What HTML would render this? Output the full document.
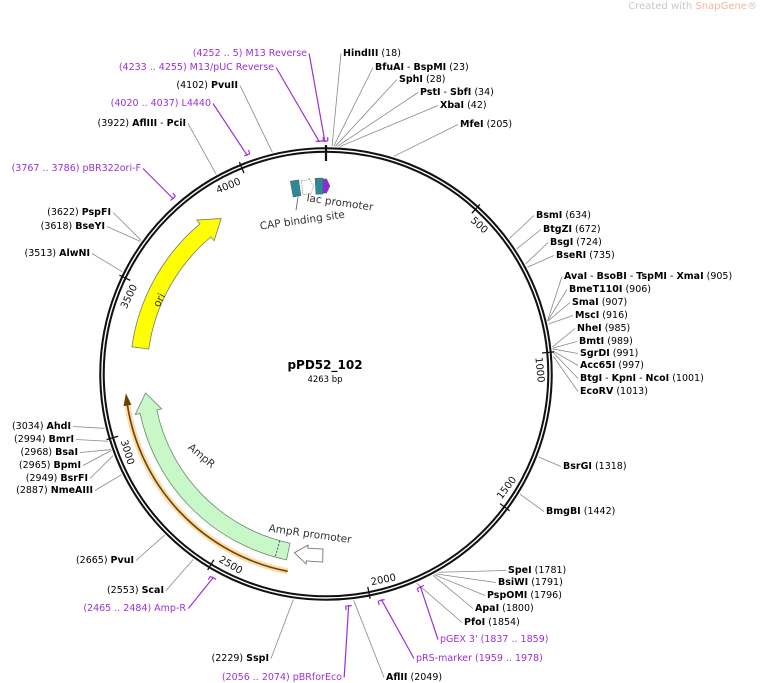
<!DOCTYPE html>
<html><head><meta charset="utf-8"><style>
html,body{margin:0;padding:0;background:#fff;width:760px;height:683px;overflow:hidden}
svg{display:block;font-family:"DejaVu Sans","Liberation Sans",sans-serif;font-size:9.5px}
.b{font-weight:bold}
.p{fill:#9b30d9}
.t{font-size:10px;fill:#111}
</style></head><body>
<svg id="s" width="760" height="683" viewBox="0 0 760 683" xmlns="http://www.w3.org/2000/svg">
<g id="lines" stroke="#888" stroke-width="0.8" fill="none"></g>
<g id="feat"></g>
<circle cx="326" cy="374" r="224" fill="none" stroke="#111" stroke-width="5.5"/>
<circle cx="326" cy="374" r="224" fill="none" stroke="#fff" stroke-width="1.4"/>
<g id="ticks" stroke="#111" stroke-width="1.3"></g>
<g id="prim" stroke="#9b30d9" stroke-width="1.2" fill="none"></g>

<g class="t">
<text transform="rotate(42.2 326 374)" x="330" y="164">500</text>
<text transform="rotate(84.4 326 374)" x="330" y="164">1000</text>
<text transform="rotate(-53.3 326 374)" x="330" y="590">1500</text>
<text transform="rotate(-11.1 326 374)" x="330" y="590">2000</text>
<text transform="rotate(31 326 374)" x="330" y="590">2500</text>
<text transform="rotate(73 326 374)" x="330" y="590">3000</text>
<text transform="rotate(-64.4 326 374)" x="298" y="166">3500</text>
<text transform="rotate(-22.2 326 374)" x="294" y="166">4000</text>
</g>

<text x="325" y="369" text-anchor="middle" class="b" style="font-size:12px">pPD52_102</text>
<text x="325" y="382" text-anchor="middle" style="font-size:8.5px">4263 bp</text>

<text x="260" y="224" transform="rotate(-8 300 224)" style="font-size:10.5px;fill:#333">CAP binding site</text>
<text x="306" y="206" transform="rotate(8 340 205)" style="font-size:10.5px;fill:#333">lac promoter</text>
<text x="186" y="458" transform="rotate(40 200 455)" style="font-size:10.5px;fill:#333">AmpR</text>
<text x="268" y="536" transform="rotate(8 300 536)" style="font-size:10.5px;fill:#333">AmpR promoter</text>
<text x="158" y="306" transform="rotate(-62 160 306)" style="font-size:10.5px;fill:#333">ori</text>

<g id="R">
<text id="r0" x="343" y="56"><tspan class="b">HindIII</tspan>  (18)</text>
<text id="r1" x="375" y="70"><tspan class="b">BfuAI</tspan> - <tspan class="b">BspMI</tspan>  (23)</text>
<text id="r2" x="399" y="82"><tspan class="b">SphI</tspan>  (28)</text>
<text id="r3" x="420" y="95"><tspan class="b">PstI</tspan> - <tspan class="b">SbfI</tspan>  (34)</text>
<text id="r4" x="440" y="108"><tspan class="b">XbaI</tspan>  (42)</text>
<text id="r5" x="460" y="127"><tspan class="b">MfeI</tspan>  (205)</text>
<text id="r6" x="536" y="218"><tspan class="b">BsmI</tspan>  (634)</text>
<text id="r7" x="543" y="232"><tspan class="b">BtgZI</tspan>  (672)</text>
<text id="r8" x="550" y="245"><tspan class="b">BsgI</tspan>  (724)</text>
<text id="r9" x="556" y="258"><tspan class="b">BseRI</tspan>  (735)</text>
<text id="r10" x="564" y="279"><tspan class="b">AvaI</tspan> - <tspan class="b">BsoBI</tspan> - <tspan class="b">TspMI</tspan> - <tspan class="b">XmaI</tspan>  (905)</text>
<text id="r11" x="569" y="292"><tspan class="b">BmeT110I</tspan>  (906)</text>
<text id="r12" x="572" y="305"><tspan class="b">SmaI</tspan>  (907)</text>
<text id="r13" x="575" y="318"><tspan class="b">MscI</tspan>  (916)</text>
<text id="r14" x="577" y="331"><tspan class="b">NheI</tspan>  (985)</text>
<text id="r15" x="579" y="344"><tspan class="b">BmtI</tspan>  (989)</text>
<text id="r16" x="580" y="356"><tspan class="b">SgrDI</tspan>  (991)</text>
<text id="r17" x="580" y="368"><tspan class="b">Acc65I</tspan>  (997)</text>
<text id="r18" x="580" y="381"><tspan class="b">BtgI</tspan> - <tspan class="b">KpnI</tspan> - <tspan class="b">NcoI</tspan>  (1001)</text>
<text id="r19" x="580" y="394"><tspan class="b">EcoRV</tspan>  (1013)</text>
<text id="r20" x="563" y="469"><tspan class="b">BsrGI</tspan>  (1318)</text>
<text id="r21" x="546" y="514"><tspan class="b">BmgBI</tspan>  (1442)</text>
<text id="r22" x="508" y="573"><tspan class="b">SpeI</tspan>  (1781)</text>
<text id="r23" x="498" y="585"><tspan class="b">BsiWI</tspan>  (1791)</text>
<text id="r24" x="487" y="598"><tspan class="b">PspOMI</tspan>  (1796)</text>
<text id="r25" x="475" y="611"><tspan class="b">ApaI</tspan>  (1800)</text>
<text id="r26" x="464" y="625"><tspan class="b">PfoI</tspan>  (1854)</text>
<text id="r27" x="440" y="642" class="p">pGEX 3'  (1837 .. 1859)</text>
<text id="r28" x="416" y="661" class="p">pRS-marker  (1959 .. 1978)</text>
<text id="r29" x="386" y="680"><tspan class="b">AflII</tspan>  (2049)</text>
</g>
<g id="L" text-anchor="end">
<text id="l0" x="307" y="56" class="p">(4252 .. 5)  M13 Reverse</text>
<text id="l1" x="274" y="70" class="p">(4233 .. 4255)  M13/pUC Reverse</text>
<text id="l2" x="238" y="88">(4102)  <tspan class="b">PvuII</tspan></text>
<text id="l3" x="211" y="106" class="p">(4020 .. 4037)  L4440</text>
<text id="l4" x="186" y="126">(3922)  <tspan class="b">AflIII</tspan> - <tspan class="b">PciI</tspan></text>
<text id="l5" x="141" y="171" class="p">(3767 .. 3786)  pBR322ori-F</text>
<text id="l6" x="111" y="215">(3622)  <tspan class="b">PspFI</tspan></text>
<text id="l7" x="105" y="229">(3618)  <tspan class="b">BseYI</tspan></text>
<text id="l8" x="90" y="256">(3513)  <tspan class="b">AlwNI</tspan></text>
<text id="l9" x="71" y="429">(3034)  <tspan class="b">AhdI</tspan></text>
<text id="l10" x="74" y="442">(2994)  <tspan class="b">BmrI</tspan></text>
<text id="l11" x="78" y="455">(2968)  <tspan class="b">BsaI</tspan></text>
<text id="l12" x="81" y="468">(2965)  <tspan class="b">BpmI</tspan></text>
<text id="l13" x="88" y="481">(2949)  <tspan class="b">BsrFI</tspan></text>
<text id="l14" x="93" y="493">(2887)  <tspan class="b">NmeAIII</tspan></text>
<text id="l15" x="134" y="563">(2665)  <tspan class="b">PvuI</tspan></text>
<text id="l16" x="164" y="593">(2553)  <tspan class="b">ScaI</tspan></text>
<text id="l17" x="186" y="611" class="p">(2465 .. 2484)  Amp-R</text>
<text id="l18" x="269" y="661">(2229)  <tspan class="b">SspI</tspan></text>
<text id="l19" x="342" y="680" class="p">(2056 .. 2074)  pBRforEco</text>
</g>
<text x="757" y="9" text-anchor="end" style="font-size:10px;fill:#c8c8c8">Created with <tspan style="fill:#f2b79a">SnapGene</tspan>®</text>
</svg>
<script>
var cx=326,cy=374,N=4263,NS="http://www.w3.org/2000/svg";
function P(a,r){a=a*Math.PI/180;return [cx+r*Math.sin(a),cy-r*Math.cos(a)];}
function D(bp){return bp/N*360;}
function el(t,at,par){var e=document.createElementNS(NS,t);for(var k in at)e.setAttribute(k,at[k]);document.getElementById(par).appendChild(e);return e;}
function arcPath(a1,a2,r){var p=P(a1,r),q=P(a2,r),l=(a2-a1)>180?1:0;return "M"+p+" A"+r+" "+r+" 0 "+l+" 1 "+q;}
function arrow(a1,a2,r1,r2,head,flare){
 var m=(r1+r2)/2,h=a2-head;
 return "M"+P(a1,r2)+" A"+r2+" "+r2+" 0 0 1 "+P(h,r2)+" L"+P(h,r2+flare)+" L"+P(a2,m)+" L"+P(h,r1-flare)+" L"+P(h,r1)+" A"+r1+" "+r1+" 0 0 0 "+P(a1,r1)+" Z";}
[0,500,1000,1500,2000,2500,3000,3500,4000].forEach(function(b){var a=D(b),p=P(a,b==0?213:217),q=P(a,229);el("line",{x1:p[0],y1:p[1],x2:q[0],y2:q[1],"stroke-width":b==0?2.2:1.3},"ticks");});
el("path",{d:arcPath(191,262,201),stroke:"#f5b040","stroke-width":6,"stroke-opacity":0.45,fill:"none"},"feat");
el("path",{d:arcPath(191,262,201),stroke:"#6b4300","stroke-width":1.6,fill:"none"},"feat");
var t=P(264.5,201),u=P(261,197),v=P(261,205);
el("path",{d:"M"+t+" L"+u+" L"+v+"Z",fill:"#6b4300"},"feat");
el("path",{d:arrow(278,326,179,196,6,5),fill:"#ffff00",stroke:"#777","stroke-width":0.8},"feat");
el("path",{d:arrow(192,264,173,190,6,5),fill:"#c8f7c8",stroke:"#6a8a6a","stroke-width":0.8},"feat");
var dl1=P(195.5,173),dl2=P(195.5,190);el("line",{x1:dl1[0],y1:dl1[1],x2:dl2[0],y2:dl2[1],stroke:"#333","stroke-dasharray":"2,1.5","stroke-width":0.8},"feat");
el("path",{d:arrow(181,190,175,188,4,3),fill:"#fff",stroke:"#777","stroke-width":0.9},"feat");
el("path",{d:arrow(-10.5,-8,180,196,0.01,0),fill:"#2a8a9a",stroke:"#555","stroke-width":0.5},"feat");
el("path",{d:arrow(-7.3,-3.8,181,195,1.2,1.5),fill:"#fff",stroke:"#777","stroke-width":0.6,"stroke-dasharray":"1.5,1"},"feat");
el("path",{d:arrow(-3.2,-0.9,180,196,0.01,0),fill:"#2a8a9a",stroke:"#555","stroke-width":0.5},"feat");
el("path",{d:arrow(-0.9,1.2,181,195,1.1,0.5),fill:"#8a2be2",stroke:"#555","stroke-width":0.5},"feat");
var cb1=P(-9,179),cb2=[cb1[0]-2,cb1[1]+13];el("line",{x1:cb1[0],y1:cb1[1],x2:cb2[0],y2:cb2[1],stroke:"#555","stroke-width":0.8},"feat");
var R=[18,23,28,34,42,205,634,672,724,735,905,906,907,916,985,989,991,997,1001,1013,1318,1442,1781,1791,1796,1800,1854,[1837,1859],[1959,1978],2049];
var L=[[4252,4268],[4233,4255],4102,[4020,4037],3922,[3767,3786],3622,3618,3513,3034,2994,2968,2965,2949,2887,2665,2553,[2465,2484],2229,[2056,2074]];
function conn(id,v,side){
 var e=document.getElementById(id),bb=e.getBBox();
 var isP=Array.isArray(v),bp=isP?(v[0]+v[1])/2:v,a=D(bp),r=isP?232:228;
 var p=P(a,r),q=side?[bb.x-2,bb.y+bb.height/2]:[bb.x+bb.width+2,bb.y+bb.height/2];
 if(isP){el("path",{d:arcPath(D(v[0]),D(v[1]),233)},"prim");
  var e2=P(D(v[1]),233),e3=P(D(v[1]),237);el("line",{x1:e2[0],y1:e2[1],x2:e3[0],y2:e3[1]},"prim");
  el("line",{x1:p[0],y1:p[1],x2:q[0],y2:q[1]},"prim");}
 else el("line",{x1:p[0],y1:p[1],x2:q[0],y2:q[1]},"lines");
}
R.forEach(function(v,i){conn("r"+i,v,1);});
L.forEach(function(v,i){conn("l"+i,v,0);});
</script>
</body></html>
